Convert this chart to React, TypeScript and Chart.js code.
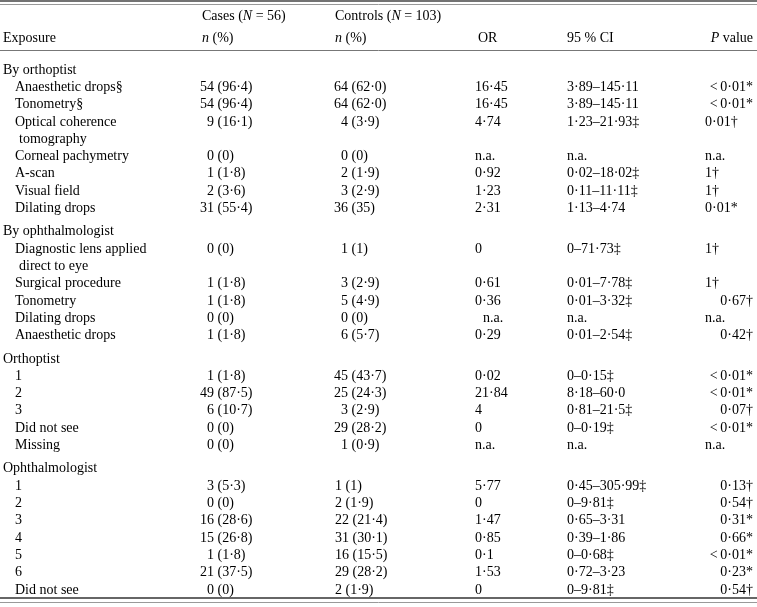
import React, { useEffect, useRef } from "react";
import { Chart, registerables } from "chart.js";
Chart.register(...registerables);

// ---------- data ----------
const exposures = [
  "By orthoptist",
  "Anaesthetic drops§",
  "Tonometry§",
  "Optical coherence\ntomography",
  "Corneal pachymetry",
  "A-scan",
  "Visual field",
  "Dilating drops",
  "By ophthalmologist",
  "Diagnostic lens applied\ndirect to eye",
  "Surgical procedure",
  "Tonometry",
  "Dilating drops",
  "Anaesthetic drops",
  "Orthoptist",
  "1",
  "2",
  "3",
  "Did not see",
  "Missing",
  "Ophthalmologist",
  "1",
  "2",
  "3",
  "4",
  "5",
  "6",
  "Did not see",
];

const casesN = [null, 54, 54, 9, 0, 1, 2, 31, null, 0, 1, 1, 0, 1, null, 1, 49, 6, 0, 0, null, 3, 0, 16, 15, 1, 21, 0];
const casesPct = [null, "96·4", "96·4", "16·1", "0", "1·8", "3·6", "55·4", null, "0", "1·8", "1·8", "0", "1·8", null, "1·8", "87·5", "10·7", "0", "0", null, "5·3", "0", "28·6", "26·8", "1·8", "37·5", "0"];
const controlsN = [null, 64, 64, 4, 0, 2, 3, 36, null, 1, 3, 5, 0, 6, null, 45, 25, 3, 29, 1, null, 1, 2, 22, 31, 16, 29, 2];
const controlsPct = [null, "62·0", "62·0", "3·9", "0", "1·9", "2·9", "35", null, "1", "2·9", "4·9", "0", "5·7", null, "43·7", "24·3", "2·9", "28·2", "0·9", null, "1", "1·9", "21·4", "30·1", "15·5", "28·2", "1·9"];
const oddsRatio = [null, "16·45", "16·45", "4·74", "n.a.", "0·92", "1·23", "2·31", null, "0", "0·61", "0·36", "n.a.", "0·29", null, "0·02", "21·84", "4", "0", "n.a.", null, "5·77", "0", "1·47", "0·85", "0·1", "1·53", "0"];
const ci95 = [null, "3·89–145·11", "3·89–145·11", "1·23–21·93‡", "n.a.", "0·02–18·02‡", "0·11–11·11‡", "1·13–4·74", null, "0–71·73‡", "0·01–7·78‡", "0·01–3·32‡", "n.a.", "0·01–2·54‡", null, "0–0·15‡", "8·18–60·0", "0·81–21·5‡", "0–0·19‡", "n.a.", null, "0·45–305·99‡", "0–9·81‡", "0·65–3·31", "0·39–1·86", "0–0·68‡", "0·72–3·23", "0–9·81‡"];
const pValues = [null, "<\u20090·01*", "<\u20090·01*", "0·01†", "n.a.", "1†", "1†", "0·01*", null, "1†", "1†", "0·67†", "n.a.", "0·42†", null, "<\u20090·01*", "<\u20090·01*", "0·07†", "<\u20090·01*", "n.a.", null, "0·13†", "0·54†", "0·31*", "0·66*", "<\u20090·01*", "0·23*", "0·54†"];

// ---------- layout / style ----------
const W = 757;
const H = 607;
const FONT = '14px "Liberation Serif", "Times New Roman", serif';
const ROW_H = 17.3;
const SECTION_GAP = 0.35;
const FIRST_ROW_Y = 69;
const TEXT_DY = 1;
const HEAD1_Y = 15;
const HEAD2_Y = 37;
const X_SECTION = 3;
const X_ITEM = 15;
const X_WRAP = 19;
const X_CASES = 202;
const X_CASES_NUM_R = 214;
const X_CTRL = 335;
const X_CTRL_NUM_R = 348;
const X_OR = 475;
const X_CI = 567;
const X_P_LEFT = 705;
const X_P_RIGHT = 753;
const P_LEFT_ROWS = new Set([3, 4, 5, 6, 7, 9, 10, 12, 19]);
const OR_INDENT_ROWS = new Set([12]);

type Run = { t: string; i?: boolean };

function drawRuns(ctx: CanvasRenderingContext2D, runs: Run[], x: number, y: number, align: "left" | "right") {
  const fonts = runs.map((r) => (r.i ? "italic " : "") + FONT);
  const widths = runs.map((r, k) => {
    ctx.font = fonts[k];
    return ctx.measureText(r.t).width;
  });
  const total = widths.reduce((a, b) => a + b, 0);
  let cx = align === "left" ? x : x - total;
  ctx.textAlign = "left";
  runs.forEach((r, k) => {
    ctx.font = fonts[k];
    ctx.fillText(r.t, cx, y + TEXT_DY);
    cx += widths[k];
  });
}

function line(ctx: CanvasRenderingContext2D, y: number, w: number, color: string) {
  ctx.save();
  ctx.strokeStyle = color;
  ctx.lineWidth = w;
  ctx.beginPath();
  ctx.moveTo(0, y);
  ctx.lineTo(W, y);
  ctx.stroke();
  ctx.restore();
}

// row positions in "row units"
function rowPositions() {
  const pos: number[] = [];
  let p = 0;
  exposures.forEach((label, i) => {
    if (i > 0 && casesN[i] === null) p += SECTION_GAP;
    pos.push(p);
    p += label.split("\n").length;
  });
  return pos;
}

const tablePlugin = {
  id: "tablePlugin",
  afterDraw(chart: any) {
    const ctx: CanvasRenderingContext2D = chart.ctx;
    const xs = chart.scales.x;
    const ys = chart.scales.y;
    const px = (v: number) => xs.getPixelForValue(v);
    const unitOf = (pixel: number) => (pixel - FIRST_ROW_Y) / ROW_H;
    const py = (u: number) => ys.getPixelForValue(u);
    ctx.save();
    ctx.fillStyle = "#000";
    ctx.textBaseline = "middle";

    // rules
    line(ctx, py(unitOf(1)), 1.6, "#444");
    line(ctx, py(unitOf(4.5)), 1, "#999");
    line(ctx, py(unitOf(50.5)), 1, "#777");
    line(ctx, py(unitOf(598)), 1.6, "#333");
    line(ctx, py(unitOf(602.5)), 1, "#999");

    // header
    const h1 = py(unitOf(HEAD1_Y));
    const h2 = py(unitOf(HEAD2_Y));
    drawRuns(ctx, [{ t: "Cases (" }, { t: "N", i: true }, { t: " = 56)" }], px(X_CASES), h1, "left");
    drawRuns(ctx, [{ t: "Controls (" }, { t: "N", i: true }, { t: " = 103)" }], px(X_CTRL), h1, "left");
    drawRuns(ctx, [{ t: "Exposure" }], px(X_SECTION), h2, "left");
    drawRuns(ctx, [{ t: "n", i: true }, { t: " (%)" }], px(X_CASES), h2, "left");
    drawRuns(ctx, [{ t: "n", i: true }, { t: " (%)" }], px(X_CTRL), h2, "left");
    drawRuns(ctx, [{ t: "OR" }], px(X_OR + 3), h2, "left");
    drawRuns(ctx, [{ t: "95 % CI" }], px(X_CI), h2, "left");
    drawRuns(ctx, [{ t: "P", i: true }, { t: " value" }], px(X_P_RIGHT), h2, "right");

    const pos = rowPositions();
    let section = -1;
    exposures.forEach((label, i) => {
      const y = py(pos[i]);
      const isHeader = casesN[i] === null;
      if (isHeader) {
        section++;
        drawRuns(ctx, [{ t: label }], px(X_SECTION), y, "left");
        return;
      }
      const parts = label.split("\n");
      parts.forEach((p, k) => {
        drawRuns(ctx, [{ t: p }], px(k === 0 ? X_ITEM : X_WRAP), py(pos[i] + k), "left");
      });
      // cases
      drawRuns(ctx, [{ t: String(casesN[i]) }], px(X_CASES_NUM_R), y, "right");
      drawRuns(ctx, [{ t: ` (${casesPct[i]})` }], px(X_CASES_NUM_R), y, "left");
      // controls
      if (section === 3) {
        drawRuns(ctx, [{ t: `${controlsN[i]} (${controlsPct[i]})` }], px(X_CTRL), y, "left");
      } else {
        drawRuns(ctx, [{ t: String(controlsN[i]) }], px(X_CTRL_NUM_R), y, "right");
        drawRuns(ctx, [{ t: ` (${controlsPct[i]})` }], px(X_CTRL_NUM_R), y, "left");
      }
      drawRuns(ctx, [{ t: String(oddsRatio[i]) }], px(X_OR + (OR_INDENT_ROWS.has(i) ? 8 : 0)), y, "left");
      drawRuns(ctx, [{ t: String(ci95[i]) }], px(X_CI), y, "left");
      const pv = String(pValues[i]);
      if (P_LEFT_ROWS.has(i)) drawRuns(ctx, [{ t: pv }], px(X_P_LEFT), y, "left");
      else drawRuns(ctx, [{ t: pv }], px(X_P_RIGHT), y, "right");
    });
    ctx.restore();
  },
};

export default function App() {
  const ref = useRef<HTMLCanvasElement | null>(null);
  useEffect(() => {
    if (!ref.current) return;
    const yMin = -FIRST_ROW_Y / ROW_H;
    const yMax = yMin + H / ROW_H;
    const chart = new Chart(ref.current, {
      type: "scatter",
      data: { datasets: [{ data: [], showLine: false }] },
      options: {
        animation: false,
        responsive: true,
        maintainAspectRatio: false,
        layout: { padding: 0 },
        plugins: { legend: { display: false }, tooltip: { enabled: false } },
        scales: {
          x: { type: "linear", display: false, min: 0, max: W },
          y: { type: "linear", display: false, reverse: true, min: yMin, max: yMax },
        },
      },
      plugins: [tablePlugin],
    } as any);
    return () => chart.destroy();
  }, []);
  return (
    <div style={{ position: "fixed", left: 0, top: 0, width: W, height: H, background: "#fff" }}>
      <canvas ref={ref} />
    </div>
  );
}
